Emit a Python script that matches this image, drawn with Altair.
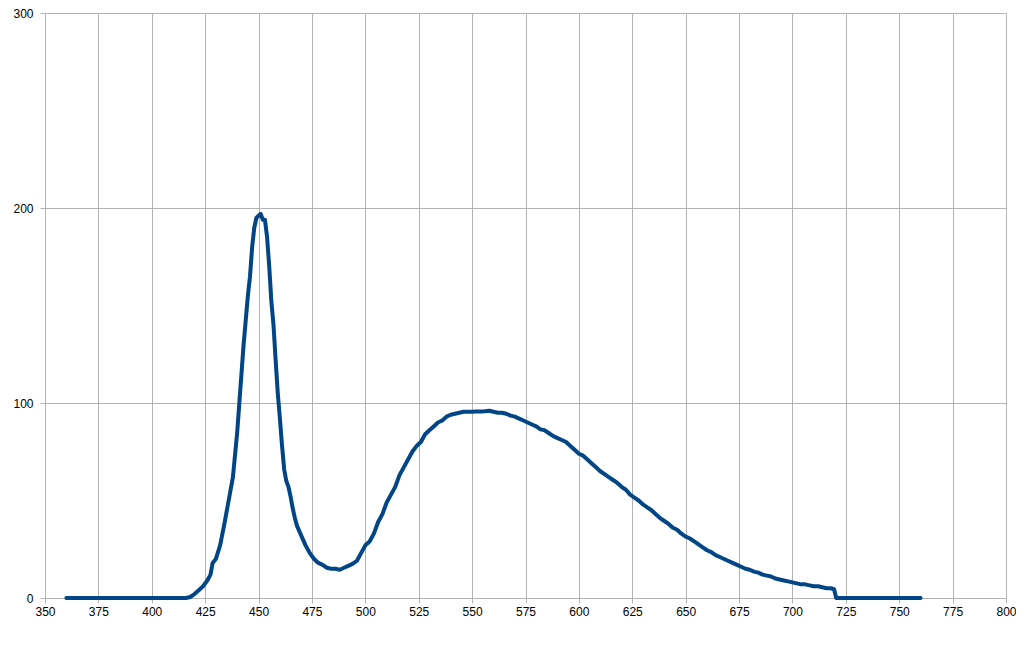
import altair as alt
import pandas as pd

wavelength = [360, 370, 380, 390, 400, 410, 416, 418, 420, 422, 424, 426, 427.5, 428.5, 430, 432, 434, 436, 438, 440,
              441, 443, 445, 446, 447, 448, 449, 450, 451, 452, 453, 454, 455, 456, 457, 458, 459, 460, 461, 462,
              463, 464, 465, 466, 467, 468, 470, 472, 474, 476, 478, 480, 482, 484, 486, 488, 490, 492, 494, 496,
              498, 500, 502, 504, 506, 508, 510, 512, 514, 516, 518, 520, 522, 524, 526, 528, 530, 532, 534, 536,
              538, 540, 542, 544, 546, 548, 550, 552, 554, 556, 558, 560, 562, 564, 566, 568, 570, 572, 574, 576,
              578, 580, 582, 584, 586, 588, 590, 592, 594, 596, 598, 600, 602, 604, 606, 608, 610, 612, 614, 616,
              618, 620, 622, 624, 626, 628, 630, 632, 634, 636, 638, 640, 642, 644, 646, 648, 650, 652, 654, 656,
              658, 660, 662, 664, 666, 668, 670, 672, 674, 676, 678, 680, 682, 684, 686, 688, 690, 692, 694, 696,
              698, 700, 702, 704, 706, 708, 710, 712, 714, 716, 718, 719.5, 720.5, 730, 740, 750, 760]
intensity = [0, 0, 0, 0, 0, 0, 0, 0.5, 2, 4, 6, 9, 12, 18, 20, 27, 38, 50, 62, 85,
             100, 130, 155, 165, 180, 190, 195, 196, 197, 194, 194, 185, 170, 152, 140, 122, 105, 92, 78, 66,
             60, 57, 52, 46, 41, 37, 32, 27, 23, 20, 18, 17, 15.5, 15, 15, 14.5, 15.5, 16.5, 17.5, 19,
             23, 27, 29, 33, 39, 43, 49, 53, 57, 63, 67, 71, 75, 78, 80, 84, 86, 88, 90, 91,
             93, 94, 94.5, 95, 95.5, 95.5, 95.5, 95.7, 95.7, 95.8, 96, 95.5, 95, 95, 94.5, 93.5, 93, 92, 91, 90,
             89, 88, 86.5, 86, 84.5, 83, 82, 81, 80, 78, 76, 74, 73, 71, 69, 67, 65, 63.5, 62, 60.5,
             59, 57, 55.5, 53, 51.5, 50, 48, 46.5, 45, 43, 41, 39.5, 38, 36, 35, 33, 31.5, 30.5, 29, 27.5,
             26, 24.5, 23.5, 22, 21, 20, 19, 18, 17, 16, 15, 14.5, 13.5, 13, 12, 11.5, 11, 10, 9.5, 9,
             8.5, 8, 7.5, 7, 7, 6.5, 6, 6, 5.5, 5, 5, 4.5, 0, 0, 0, 0, 0]

x_ticks = list(range(350, 801, 25))
y_ticks = [0, 100, 200, 300]

df = pd.DataFrame({"wavelength": wavelength, "intensity": intensity})

chart = alt.Chart(df).mark_line(color="#004586", strokeWidth=4, strokeJoin="round", strokeCap="round").encode(
    x=alt.X("wavelength:Q",
            scale=alt.Scale(domain=[350, 800], nice=False, zero=False),
            axis=alt.Axis(values=x_ticks, title=None, grid=True, gridColor="#b3b3b3", gridWidth=1,
                          domainColor="#b3b3b3", tickColor="#b3b3b3", tickSize=5,
                          labelFont="Liberation Sans", labelFontSize=12, labelColor="#000000",
                          labelPadding=3, labelFlush=False)),
    y=alt.Y("intensity:Q",
            scale=alt.Scale(domain=[0, 300], nice=False),
            axis=alt.Axis(values=y_ticks, title=None, grid=True, gridColor="#b3b3b3", gridWidth=1,
                          domainColor="#b3b3b3", tickColor="#b3b3b3", tickSize=5,
                          labelFont="Liberation Sans", labelFontSize=12, labelColor="#000000",
                          labelPadding=7, labelFlush=False)),
).properties(
    width=961, height=585,
    autosize=alt.AutoSizeParams(type="none"),
    padding={"left": 37, "top": 5, "right": 10, "bottom": 30},
).configure_view(stroke=None).configure(background="white")

chart.save("out.html", embed_options={"renderer": "svg", "actions": False})
